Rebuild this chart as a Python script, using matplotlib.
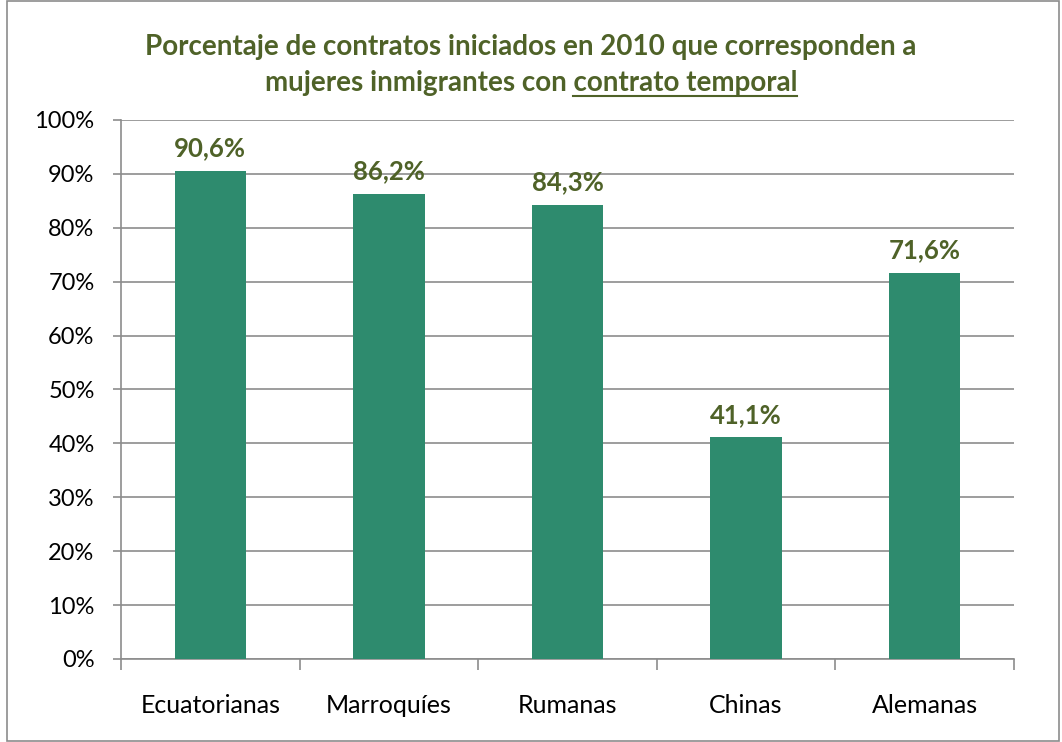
import matplotlib.pyplot as plt
from matplotlib.patches import Rectangle
from matplotlib.lines import Line2D
import numpy as np

# data
categories = ["Ecuatorianas", "Marroquíes", "Rumanas", "Chinas", "Alemanas"]
values = [90.6, 86.2, 84.3, 41.1, 71.6]
labels = ["90,6%", "86,2%", "84,3%", "41,1%", "71,6%"]
yticks = [0, 10, 20, 30, 40, 50, 60, 70, 80, 90, 100]

bar_color = "#2E8B6E"
text_green = "#4F6228"
grid_gray = "#8C8C8C"

plt.rcParams['font.family'] = ['Lato', 'DejaVu Sans']

fig = plt.figure(figsize=(10.62, 7.42), dpi=100)
ax = fig.add_axes([0.1139, 0.1119, 0.8409, 0.7264])

x = np.arange(len(categories))
ax.bar(x, values, width=0.4, color=bar_color, zorder=3)

for xi, v, lab in zip(x, values, labels):
    ax.text(xi, v + 2.0, lab, ha="center", va="bottom", fontsize=18.5,
            fontweight="bold", color=text_green)

ax.set_xlim(-0.5, len(categories) - 0.5)
ax.set_ylim(0, 100)
ax.set_yticks(yticks)
ax.set_yticklabels([f"{t}%" for t in yticks], fontsize=17)
ax.yaxis.grid(True, color=grid_gray, linewidth=1.2, zorder=0)

# category labels, ticks at category boundaries (Excel style)
ax.set_xticks(np.arange(-0.5, len(categories)), minor=False)
ax.set_xticklabels([])
ax.set_xticks(x, minor=True)
ax.set_xticklabels(categories, minor=True, fontsize=18)
ax.tick_params(axis="x", which="major", length=8, width=1.2, color=grid_gray)
ax.tick_params(axis="x", which="minor", length=0, pad=25)
ax.tick_params(axis="y", length=6, width=1.2, color=grid_gray, pad=13)

for side in ["top", "right"]:
    ax.spines[side].set_visible(False)
ax.spines["left"].set_color(grid_gray)
ax.spines["bottom"].set_color(grid_gray)
ax.spines["left"].set_linewidth(1.2)
ax.spines["bottom"].set_linewidth(1.2)

# title, second line partly underlined
tkw = dict(fontsize=20, fontweight="bold", color=text_green)
fig.text(0.5, 0.937, "Porcentaje de contratos iniciados en 2010 que corresponden a",
         ha="center", va="center", **tkw)

renderer = fig.canvas.get_renderer()
part1 = "mujeres inmigrantes con "
part2 = "contrato temporal"
t_full = fig.text(0.5, 0.888, part1 + part2, ha="center", va="baseline", **tkw)
bb_full = t_full.get_window_extent(renderer)
t_full.remove()
t2 = fig.text(0, 0, part2, ha="left", va="baseline", **tkw)
w2 = t2.get_window_extent(renderer).width
t2.remove()
fw, fh = fig.bbox.width, fig.bbox.height
x0 = bb_full.x0 / fw
base_y = 0.877
fig.text(x0, base_y, part1 + part2, ha="left", va="baseline", **tkw)
ux0 = (bb_full.x0 + bb_full.width - w2) / fw
ux1 = (bb_full.x0 + bb_full.width) / fw
uy = base_y - 5 / fh
fig.lines.append(Line2D([ux0, ux1], [uy, uy], transform=fig.transFigure,
                        color=text_green, linewidth=1.5))

# outer border
fig.patches.append(Rectangle((0.007, 0.002), 0.99, 0.996, transform=fig.transFigure,
                             fill=False, edgecolor=grid_gray, linewidth=1.2))

fig.savefig("out.png", dpi=100)
